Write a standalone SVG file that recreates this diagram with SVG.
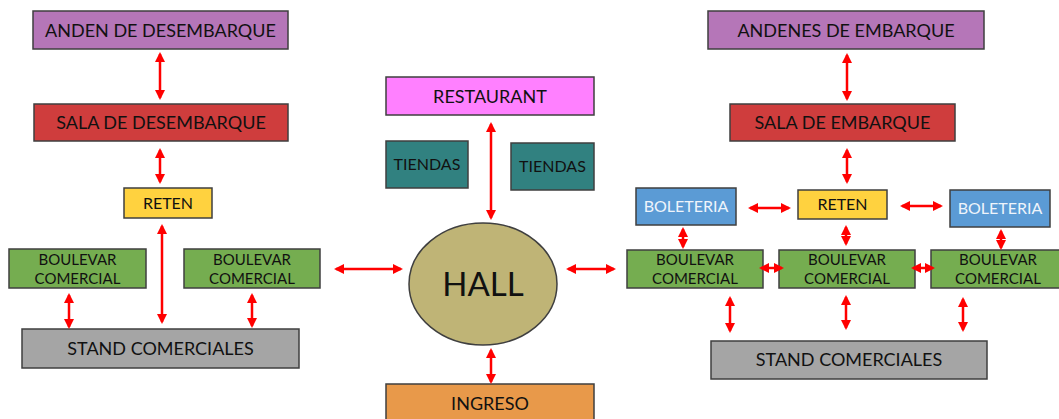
<svg xmlns="http://www.w3.org/2000/svg" width="1059" height="419" viewBox="0 0 1059 419">
  <defs>
    <style>
      .box { stroke: #3f3f3f; stroke-width: 1.5; }
      .lbl { font-family: Lato, "Liberation Sans", sans-serif; fill: #111; text-anchor: middle; }
      .big { font-size: 18px; }
      .mid { font-size: 16px; }
      .sm { font-size: 15px; }
      .wht { fill: #eef4fb; }
      .con { stroke: #ff0000; stroke-width: 2.5; fill: none; marker-start: url(#ah); marker-end: url(#ah); }
    </style>
    <marker id="ah" viewBox="0 0 10 10" refX="8" refY="5" markerWidth="4" markerHeight="4" orient="auto-start-reverse" markerUnits="strokeWidth">
      <path d="M0,0 L10,5 L0,10 z" fill="#ff0000"/>
    </marker>
  </defs>
  <rect width="1059" height="419" fill="#ffffff"/>

  <!-- left wing: arrivals -->
  <g id="anden-desembarque">
    <rect class="box" x="33" y="11" width="255" height="38" fill="#b576b8"/>
    <text class="lbl big" x="160.5" y="36.5">ANDEN DE DESEMBARQUE</text>
  </g>
  <g id="sala-desembarque">
    <rect class="box" x="34" y="104" width="254" height="37" fill="#cf3d3d"/>
    <text class="lbl big" x="161" y="129">SALA DE DESEMBARQUE</text>
  </g>
  <g id="reten-izq">
    <rect class="box" x="124" y="188" width="88" height="30" fill="#ffd23f"/>
    <text class="lbl mid" x="168" y="209">RETEN</text>
  </g>
  <g id="boulevar-izq-1">
    <rect class="box" x="9" y="249" width="137" height="39" fill="#75ad50"/>
    <text class="lbl sm" x="77.5" y="265">BOULEVAR</text>
    <text class="lbl sm" x="77.5" y="284">COMERCIAL</text>
  </g>
  <g id="boulevar-izq-2">
    <rect class="box" x="184" y="249" width="136" height="39" fill="#75ad50"/>
    <text class="lbl sm" x="252" y="265">BOULEVAR</text>
    <text class="lbl sm" x="252" y="284">COMERCIAL</text>
  </g>
  <g id="stand-izq">
    <rect class="box" x="22" y="329" width="277" height="39" fill="#a5a5a5"/>
    <text class="lbl big" x="160.5" y="355">STAND COMERCIALES</text>
  </g>

  <!-- centre -->
  <g id="restaurant">
    <rect class="box" x="386" y="77" width="208" height="38" fill="#ff80ff"/>
    <text class="lbl big" x="490" y="102.5">RESTAURANT</text>
  </g>
  <g id="tiendas-1">
    <rect class="box" x="386" y="141" width="82" height="47" fill="#318180"/>
    <text class="lbl mid" x="427" y="170">TIENDAS</text>
  </g>
  <g id="tiendas-2">
    <rect class="box" x="511" y="143" width="83" height="47" fill="#318180"/>
    <text class="lbl mid" x="552.5" y="172">TIENDAS</text>
  </g>
  <g id="hall">
    <ellipse class="box" cx="483" cy="284" rx="74" ry="61" fill="#bfb476"/>
    <text class="lbl" x="483" y="296" style="font-size:33px">HALL</text>
  </g>
  <g id="ingreso">
    <rect class="box" x="386" y="384" width="208" height="40" fill="#e8994a"/>
    <text class="lbl big" x="490" y="410">INGRESO</text>
  </g>

  <!-- right wing: departures -->
  <g id="andenes-embarque">
    <rect class="box" x="708" y="11" width="276" height="38" fill="#b576b8"/>
    <text class="lbl big" x="846" y="36.5">ANDENES DE EMBARQUE</text>
  </g>
  <g id="sala-embarque">
    <rect class="box" x="730" y="104" width="225" height="37" fill="#cf3d3d"/>
    <text class="lbl big" x="842.5" y="129">SALA DE EMBARQUE</text>
  </g>
  <g id="boleteria-1">
    <rect class="box" x="636" y="188" width="100" height="37" fill="#5b9bd5"/>
    <text class="lbl mid wht" x="686" y="212">BOLETERIA</text>
  </g>
  <g id="reten-der">
    <rect class="box" x="798" y="190" width="89" height="29" fill="#ffd23f"/>
    <text class="lbl mid" x="842.5" y="210">RETEN</text>
  </g>
  <g id="boleteria-2">
    <rect class="box" x="950" y="190" width="100" height="37" fill="#5b9bd5"/>
    <text class="lbl mid wht" x="1000" y="214">BOLETERIA</text>
  </g>
  <g id="boulevar-der-1">
    <rect class="box" x="627" y="250" width="136" height="38" fill="#75ad50"/>
    <text class="lbl sm" x="695" y="265">BOULEVAR</text>
    <text class="lbl sm" x="695" y="284">COMERCIAL</text>
  </g>
  <g id="boulevar-der-2">
    <rect class="box" x="779" y="250" width="136" height="38" fill="#75ad50"/>
    <text class="lbl sm" x="847" y="265">BOULEVAR</text>
    <text class="lbl sm" x="847" y="284">COMERCIAL</text>
  </g>
  <g id="boulevar-der-3">
    <rect class="box" x="931" y="250" width="130" height="38" fill="#75ad50"/>
    <text class="lbl sm" x="998" y="265">BOULEVAR</text>
    <text class="lbl sm" x="998" y="284">COMERCIAL</text>
  </g>
  <g id="stand-der">
    <rect class="box" x="711" y="341" width="276" height="38" fill="#a5a5a5"/>
    <text class="lbl big" x="849" y="366">STAND COMERCIALES</text>
  </g>

  <!-- two-way connectors -->
  <g id="connectors">
    <line class="con" x1="160" y1="54" x2="160" y2="98"/>
    <line class="con" x1="160" y1="150" x2="160" y2="182"/>
    <line class="con" x1="162" y1="226" x2="162" y2="322"/>
    <line class="con" x1="69" y1="295" x2="69" y2="327"/>
    <line class="con" x1="252" y1="295" x2="252" y2="326"/>

    <line class="con" x1="491" y1="124" x2="491" y2="218"/>
    <line class="con" x1="336" y1="269" x2="401" y2="269"/>
    <line class="con" x1="568" y1="269" x2="614" y2="269"/>
    <line class="con" x1="491" y1="350" x2="491" y2="382"/>

    <line class="con" x1="847" y1="55" x2="847" y2="99"/>
    <line class="con" x1="847" y1="150" x2="847" y2="182"/>
    <line class="con" x1="750" y1="208" x2="789" y2="208"/>
    <line class="con" x1="902" y1="206" x2="941" y2="206"/>
    <line class="con" x1="683" y1="229" x2="683" y2="247"/>
    <line class="con" x1="846" y1="227" x2="846" y2="244"/>
    <line class="con" x1="1001" y1="231" x2="1001" y2="248"/>
    <line class="con" x1="761" y1="268" x2="782" y2="268"/>
    <line class="con" x1="913" y1="268" x2="933" y2="268"/>
    <line class="con" x1="730" y1="298" x2="730" y2="331"/>
    <line class="con" x1="846" y1="297" x2="846" y2="328"/>
    <line class="con" x1="963" y1="299" x2="963" y2="330"/>
  </g>
</svg>
